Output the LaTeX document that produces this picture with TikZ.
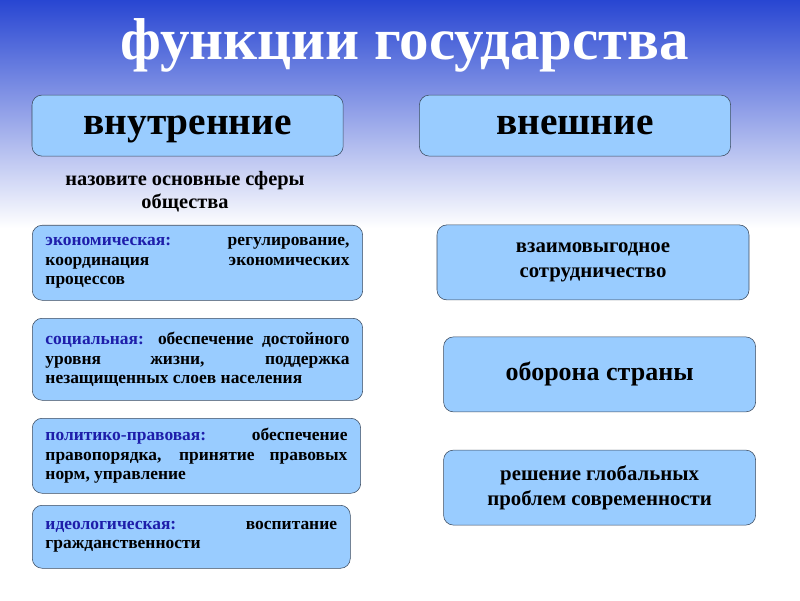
\documentclass[tikz,border=0pt]{standalone}
\usepackage{fontspec}
\setmainfont{Liberation Serif}
\usepackage{xcolor}
\usetikzlibrary{positioning}

\definecolor{boxfill}{RGB}{153,204,255}
\definecolor{boxline}{RGB}{60,75,95}
\definecolor{sferablue}{RGB}{30,30,170}
\definecolor{bgblue}{RGB}{40,70,210}

\newcommand{\sfera}[1]{\textcolor{sferablue}{#1}}

\begin{document}
\begin{tikzpicture}[
font=\bfseries,
headbox/.style={draw=boxline,fill=boxfill,rounded corners=7pt,minimum width=7.78cm,minimum height=1.525cm,text height=0.55cm,text depth=0.12cm,font=\bfseries\fontsize{28}{32}\selectfont},
sferabox/.style={draw=boxline,fill=boxfill,rounded corners=7pt,anchor=north west,inner xsep=0.33cm,inner ysep=2pt,align=justify,font=\bfseries\fontsize{12.4}{13.9}\selectfont},
vneshbox/.style={draw=boxline,fill=boxfill,rounded corners=7pt,minimum width=7.8cm,minimum height=1.875cm,align=center,font=\bfseries\fontsize{14.8}{17.5}\selectfont},
scale=1]
    % Background
    \useasboundingbox (0,0) rectangle (20,15);
    \fill[white] (0,0) rectangle (20,15);
    \shade[top color=bgblue,bottom color=white] (0,15) rectangle (20,9.3);

    % Title and the two kinds
    \node[text=white,font=\bfseries\fontsize{42}{48}\selectfont] (title) at (10.125,13.875) {функции государства};
    \node[headbox] (inner) at (4.69,11.86) {внутренние};
    \node[headbox] (outer) at (14.375,11.86) {внешние};

    \node[align=center,font=\bfseries\fontsize{14.5}{16.5}\selectfont] (prompt) at (4.625,10.2) {назовите основные сферы\\общества};

    % Internal
    \node[sferabox,text width=7.6cm,minimum height=1.875cm] (econ) at (0.8,9.375)
        {\sfera{экономическая:} регулирование,\linebreak координация экономических\linebreak процессов};
    \node[sferabox,text width=7.6cm,minimum height=2.05cm] (social) at (0.8,7.05)
        {\sfera{социальная:} обеспечение достойного\linebreak уровня жизни, поддержка\linebreak незащищенных слоев населения};
    \node[sferabox,text width=7.55cm,minimum height=1.875cm] (polit) at (0.8,4.55)
        {\sfera{политико-правовая:} обеспечение\linebreak правопорядка, принятие правовых\linebreak норм, управление};
    \node[sferabox,text width=7.29cm,minimum height=1.575cm] (ideo) at (0.8,2.375)
        {\sfera{идеологическая:} воспитание\linebreak гражданственности};

    % External
    \node[vneshbox] (coop) at (14.825,8.44) {взаимовыгодное\\сотрудничество};
    \node[vneshbox,font=\bfseries\fontsize{18.5}{21}\selectfont] (defence) at (14.99,5.64) {оборона страны};
    \node[vneshbox] (global) at (14.99,2.81) {решение глобальных\\проблем современности};

\end{tikzpicture}
\end{document}
